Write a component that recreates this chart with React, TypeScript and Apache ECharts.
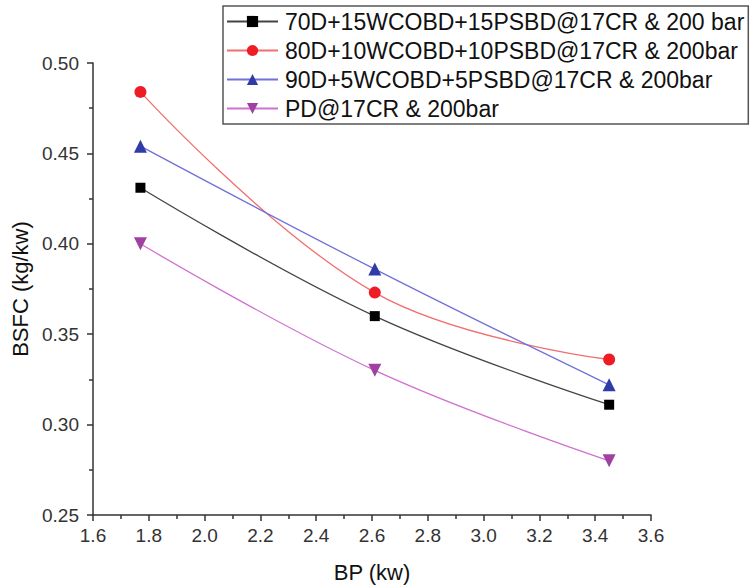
import React, { useEffect, useRef } from "react";
import * as echarts from "echarts";

const bpValues = [1.77, 2.61, 3.45];
const seriesNames = [
  "70D+15WCOBD+15PSBD@17CR & 200 bar",
  "80D+10WCOBD+10PSBD@17CR & 200bar",
  "90D+5WCOBD+5PSBD@17CR & 200bar",
  "PD@17CR & 200bar",
];
const bsfc70 = [0.431, 0.36, 0.311];
const bsfc80 = [0.484, 0.373, 0.336];
const bsfc90 = [0.454, 0.386, 0.322];
const bsfcPD = [0.4, 0.33, 0.28];

const seriesValues = [bsfc70, bsfc80, bsfc90, bsfcPD];
const markerColors = ["#000000", "#ee1c25", "#2f3ba6", "#a040a0"];
const lineColors = ["#444444", "#f07070", "#7070d8", "#d070d0"];
const symbols = ["rect", "circle", "triangle", "path://M0,0 L10,0 L5,9 Z"];
const symbolSizes = [10, 12, 13, 13];

export default function App() {
  const ref = useRef<HTMLDivElement>(null);
  useEffect(() => {
    if (!ref.current) return;
    const chart = echarts.init(ref.current, undefined, { renderer: "svg" });
    const font = "'Liberation Sans', Arial, sans-serif";
    chart.setOption({
      animation: false,
      backgroundColor: "#ffffff",
      textStyle: { fontFamily: font },
      grid: { left: 93, right: 103, top: 63, bottom: 73, containLabel: false },
      legend: {
        orient: "vertical",
        left: 223,
        top: 6,
        padding: [4, 4, 4, 3],
        itemGap: 6,
        itemWidth: 51,
        itemHeight: 14,
        borderColor: "#555",
        borderWidth: 1.5,
        textStyle: { fontSize: 23, color: "#111", fontFamily: font, padding: [0, 0, 0, 2] },
        data: seriesNames,
      },
      xAxis: {
        type: "value",
        min: 1.6,
        max: 3.6,
        interval: 0.2,
        name: "BP (kw)",
        nameLocation: "middle",
        nameGap: 46,
        nameTextStyle: { fontSize: 22, color: "#111" },
        axisLine: { show: true, onZero: false, lineStyle: { color: "#333", width: 1.5 } },
        axisTick: { show: true, length: 6, lineStyle: { color: "#333", width: 1.5 } },
        minorTick: { show: true, splitNumber: 2, length: 4, lineStyle: { color: "#333", width: 1.5 } },
        splitLine: { show: false },
        axisLabel: {
          fontSize: 19,
          color: "#333",
          margin: 11,
          formatter: (v: number) => v.toFixed(1),
        },
      },
      yAxis: {
        type: "value",
        min: 0.25,
        max: 0.5,
        interval: 0.05,
        name: "BSFC (kg/kw)",
        nameLocation: "middle",
        nameGap: 58,
        nameTextStyle: { fontSize: 22, color: "#111" },
        axisLine: { show: true, onZero: false, lineStyle: { color: "#333", width: 1.5 } },
        axisTick: { show: true, length: 6, lineStyle: { color: "#333", width: 1.5 } },
        minorTick: { show: true, splitNumber: 2, length: 4, lineStyle: { color: "#333", width: 1.5 } },
        splitLine: { show: false },
        axisLabel: {
          fontSize: 19,
          color: "#333",
          margin: 14,
          formatter: (v: number) => v.toFixed(2),
        },
      },
      series: seriesNames.map((name, i) => ({
        name,
        type: "line",
        smooth: 0.4,
        data: bpValues.map((x, j) => [x, seriesValues[i][j]]),
        symbol: symbols[i],
        symbolSize: symbolSizes[i],
        itemStyle: { color: markerColors[i] },
        lineStyle: { color: lineColors[i], width: 1.3 },
      })),
    });
    return () => chart.dispose();
  }, []);
  return <div ref={ref} style={{ width: 754, height: 588, position: "absolute", left: 0, top: 0 }} />;
}
